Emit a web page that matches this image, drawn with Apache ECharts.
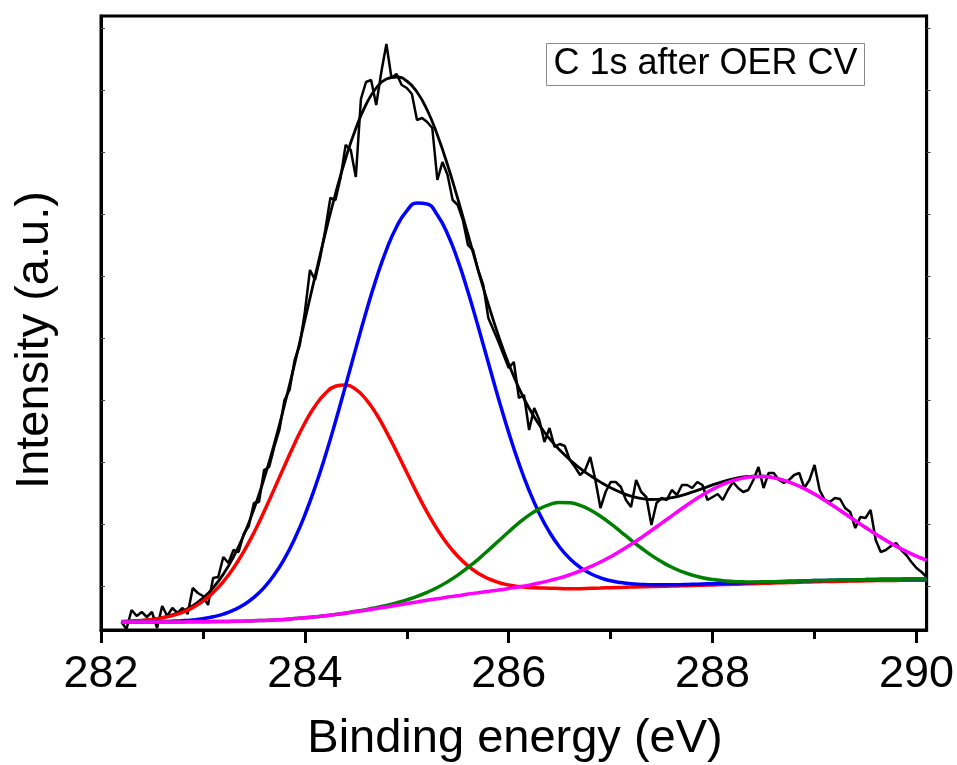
<!DOCTYPE html>
<html><head><meta charset="utf-8">
<script src="https://cdn.jsdelivr.net/npm/echarts@6/dist/echarts.min.js"></script>
<style>html,body{margin:0;padding:0;background:#fff}#c{width:957px;height:765px}</style>
</head><body><div id="c"></div>
<script>
// Fit grid (binding energy, eV)
const energy = [282.2,282.3,282.4,282.5,282.6,282.7,282.8,282.9,
283.0,283.1,283.2,283.3,283.4,283.5,283.6,283.7,283.8,283.9,
284.0,284.1,284.2,284.3,284.4,284.5,284.6,284.7,284.8,284.9,
285.0,285.1,285.2,285.3,285.4,285.5,285.6,285.7,285.8,285.9,
286.0,286.1,286.2,286.3,286.4,286.5,286.6,286.7,286.8,286.9,
287.0,287.1,287.2,287.3,287.4,287.5,287.6,287.7,287.8,287.9,
288.0,288.1,288.2,288.3,288.4,288.5,288.6,288.7,288.8,288.9,
289.0,289.1,289.2,289.3,289.4,289.5,289.6,289.7,289.8,289.9,
290.0,290.1];

const envelope = [8.5,8.9,9.6,10.7,12.5,15.1,18.9,24.3,
31.9,42.2,55.8,73.1,94.7,120.7,151.3,186.2,224.8,266.4,
309.8,353.6,396.3,436.0,471.5,501.5,525.5,542.0,551.0,553.0,
549.0,538.0,520.0,495.0,465.0,431.3,395.5,359.7,325.6,294.0,
266.1,242.0,221.8,205.0,191.3,179.9,170.3,161.7,154.4,147.9,
142.2,137.6,133.9,131.6,130.5,130.8,132.3,134.6,137.9,141.4,
145.1,148.4,151.2,153.1,153.9,153.9,152.4,149.6,146.0,141.4,
135.9,129.7,123.1,116.2,109.3,102.5,95.9,89.7,83.9,78.6,
73.8,69.8];

const redPeak = [8.5,8.9,9.5,10.5,12.1,14.4,17.7,22.4,
28.8,37.4,48.4,62.0,78.4,97.3,118.5,141.1,164.1,186.6,
207.0,224.0,236.5,243.7,245.0,240.6,230.6,216.2,198.2,178.2,
157.4,136.9,117.7,100.5,85.8,73.7,64.1,56.7,51.3,47.5,
45.0,43.4,42.5,42.1,41.8,41.5,41.2,41.3,41.7,42.0,
42.3,42.6,42.9,43.2,43.4,43.7,43.9,44.2,44.5,44.8,
45.1,45.4,45.7,46.0,46.3,46.7,47.0,47.3,47.6,47.9,
48.2,48.4,48.6,48.8,49.0,49.2,49.4,49.5,49.6,49.7,
49.7,49.8];

const bluePeak = [8.0,8.0,8.1,8.2,8.5,8.8,9.3,10.1,
11.3,13.2,15.9,19.8,25.2,32.6,42.4,55.2,71.3,91.2,
115.0,142.8,174.0,208.3,244.6,281.6,317.7,351.1,380.2,403.3,
419.2,427.0,426.0,414.9,396.0,369.8,338.3,303.4,267.2,231.3,
197.4,166.6,139.5,116.6,97.8,82.8,71.3,62.7,56.5,52.2,
49.2,47.4,46.2,45.6,45.2,45.2,45.2,45.4,45.7,46.0,
46.3,46.6,46.9,47.2,47.5,47.9,48.2,48.5,48.8,49.1,
49.4,49.6,49.8,50.0,50.2,50.4,50.6,50.7,50.8,50.9,
50.9,51.0];

const greenPeak = [8.0,8.0,8.0,8.0,8.1,8.1,8.1,8.2,
8.2,8.4,8.5,8.7,8.9,9.2,9.6,10.1,10.6,11.4,
12.2,13.2,14.2,15.5,17.0,18.7,20.4,22.4,24.6,27.2,
30.2,33.6,37.7,42.5,48.3,54.9,62.5,70.7,79.8,89.0,
98.3,107.1,114.9,121.1,125.4,127.5,127.2,124.6,120.0,113.7,
106.3,98.2,89.9,82.0,74.6,68.2,62.7,58.3,54.9,52.3,
50.5,49.3,48.6,48.2,48.0,48.2,48.3,48.5,48.8,49.1,
49.4,49.6,49.8,50.0,50.2,50.4,50.6,50.7,50.8,50.9,
50.9,51.0];

const magentaPeak = [8.0,8.0,8.0,8.0,8.1,8.1,8.1,8.2,
8.2,8.4,8.5,8.7,8.9,9.2,9.6,10.1,10.6,11.4,
12.2,13.2,14.2,15.5,16.8,18.3,19.8,21.4,23.0,24.7,
26.4,28.1,29.8,31.2,32.9,34.3,35.9,37.2,38.6,39.9,
41.5,43.1,44.9,47.0,49.4,52.1,55.3,59.0,63.3,68.0,
73.3,79.2,85.6,92.4,99.5,106.8,114.2,121.5,128.5,134.9,
140.7,145.5,149.3,151.9,153.2,153.4,152.1,149.6,146.0,141.4,
135.9,129.7,123.1,116.2,109.3,102.5,95.9,89.7,83.9,78.6,
73.8,69.8];

// Measured spectrum
const rawEnergy = [282.2,282.25,282.3,282.35,282.4,282.45,282.5,282.55,282.6,282.65,282.7,282.75,282.8,282.85,282.9,282.95,
283,283.05,283.1,283.15,283.2,283.25,283.3,283.35,283.4,283.45,283.5,283.55,283.6,283.65,283.7,283.75,283.8,283.85,283.9,283.95,
284,284.05,284.1,284.15,284.2,284.25,284.3,284.35,284.4,284.45,284.5,284.55,284.6,284.65,284.7,284.75,284.8,284.85,284.9,284.95,
285,285.05,285.1,285.15,285.2,285.25,285.3,285.35,285.4,285.45,285.5,285.55,285.6,285.65,285.7,285.75,285.8,285.85,285.9,285.95,
286,286.05,286.1,286.15,286.2,286.25,286.3,286.35,286.4,286.45,286.5,286.55,286.6,286.65,286.7,286.75,286.8,286.85,286.9,286.95,
287,287.05,287.1,287.15,287.2,287.25,287.3,287.35,287.4,287.45,287.5,287.55,287.6,287.65,287.7,287.75,287.8,287.85,287.9,287.95,
288,288.05,288.1,288.15,288.2,288.25,288.3,288.35,288.4,288.45,288.5,288.55,288.6,288.65,288.7,288.75,288.8,288.85,288.9,288.95,
289,289.05,289.1,289.15,289.2,289.25,289.3,289.35,289.4,289.45,289.5,289.55,289.6,289.65,289.7,289.75,289.8,289.85,289.9,289.95,
290,290.05,290.1];
const rawCounts = [8,1,20,14,18,13,18,2,24,14,22,17,22,16,42,37,
34,25,52,53,73,67,80,78,96,104,127,128,160,163,183,200,230,240,270,285,
318,360,350,372,400,432,430,452,485,480,453,531,548,550,525,558,586,552,556,545,
542,536,510,512,508,502,450,468,455,430,425,410,385,380,360,345,312,300,288,275,
262,268,232,235,200,222,210,188,202,183,186,184,170,163,155,160,173,150,122,138,
148,148,143,130,123,150,138,133,105,127,132,130,140,135,145,145,142,148,145,130,
133,136,130,140,148,142,138,140,150,163,142,157,157,150,147,150,155,157,142,150,
165,140,130,128,132,131,122,118,102,113,112,120,90,78,80,84,87,80,75,68,
62,58,53];

const xMajorTicks = [282, 284, 286, 288, 290];
const xMinorTicks = [283, 285, 287, 289];
const yTicks = [44, 106, 168, 230, 292, 354, 416, 478, 540, 602];

const FONT = '"Liberation Sans", Arial, Helvetica, sans-serif';
const pairs = (xs, ys) => xs.map((x, i) => [x, ys[i]]);
const fit = (name, color, ys, width) => ({
  name, type: 'line', data: pairs(energy, ys), showSymbol: false, smooth: true,
  lineStyle: { color, width }, silent: true
});

const chart = echarts.init(document.getElementById('c'), null, { renderer: 'canvas' });
chart.setOption({
  animation: false,
  backgroundColor: '#ffffff',
  grid: { left: 101, right: 29, top: 16, bottom: 135, show: true, borderColor: '#000', borderWidth: 3, backgroundColor: 'transparent' },
  xAxis: [
    { type: 'value', min: 282, max: 290.1, position: 'bottom',
      axisLine: { show: true, onZero: false, lineStyle: { color: '#000', width: 3 } },
      splitLine: { show: false },
      axisTick: { show: true, customValues: xMajorTicks, length: 13, lineStyle: { color: '#000', width: 3 } },
      axisLabel: { show: true, customValues: xMajorTicks, margin: 22, fontSize: 45, color: '#000', fontFamily: FONT, formatter: v => String(v) } },
    { type: 'value', min: 282, max: 290.1, position: 'bottom',
      axisLine: { show: false }, splitLine: { show: false }, axisLabel: { show: false },
      axisTick: { show: true, customValues: xMinorTicks, length: 9, lineStyle: { color: '#000', width: 3 } } }
  ],
  yAxis: [
    { type: 'value', min: 0, max: 614, position: 'left',
      axisLine: { show: true, onZero: false, lineStyle: { color: '#000', width: 3 } },
      splitLine: { show: false }, axisLabel: { show: false },
      axisTick: { show: true, inside: true, customValues: yTicks, length: 4, lineStyle: { color: '#444', width: 1 } } },
    { type: 'value', min: 0, max: 614, position: 'right',
      axisLine: { show: true, onZero: false, lineStyle: { color: '#000', width: 3 } },
      splitLine: { show: false }, axisLabel: { show: false },
      axisTick: { show: true, inside: false, customValues: yTicks, length: 4, lineStyle: { color: '#444', width: 1 } } }
  ],
  series: [
    { name: 'Raw', type: 'line', data: pairs(rawEnergy, rawCounts), showSymbol: false, smooth: false,
      lineStyle: { color: '#000', width: 2.5 }, silent: true },
    fit('Envelope', '#000000', envelope, 2.8),
    fit('Peak 1', '#ff0000', redPeak, 3.5),
    fit('Peak 2', '#0000ff', bluePeak, 3.5),
    fit('Peak 3', '#008000', greenPeak, 3.5),
    fit('Peak 4', '#ff00ff', magentaPeak, 3.5)
  ],
  graphic: [
    { type: 'text', x: 35, y: 340, rotation: Math.PI / 2,
      style: { text: 'Intensity (a.u.)', fontSize: 47, fontFamily: FONT, fill: '#000', align: 'center', verticalAlign: 'middle' } },
    { type: 'text', x: 515, y: 739,
      style: { text: 'Binding energy (eV)', fontSize: 47, fontFamily: FONT, fill: '#000', align: 'center', verticalAlign: 'middle' } },
    { type: 'rect', shape: { x: 546.5, y: 43.5, width: 318, height: 42 },
      style: { fill: '#fff', stroke: '#8a8a8a', lineWidth: 1 } },
    { type: 'text', x: 705.5, y: 64,
      style: { text: 'C 1s after OER CV', fontSize: 36, fontFamily: FONT, fill: '#000', align: 'center', verticalAlign: 'middle' } }
  ]
});
</script>
</body></html>
